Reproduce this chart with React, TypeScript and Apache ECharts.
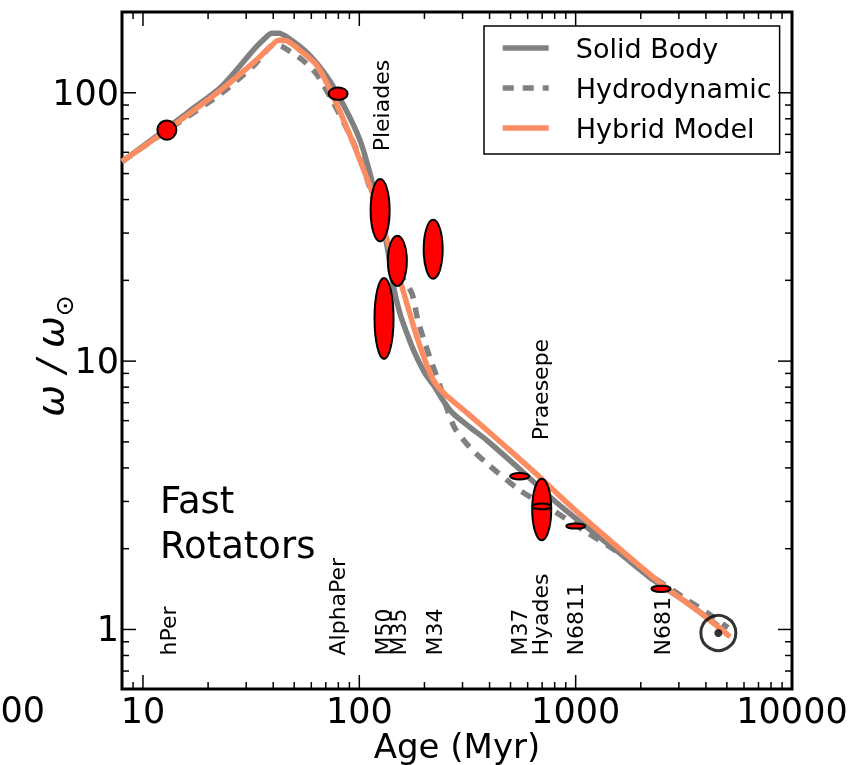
import React, { useEffect, useRef } from 'react';
import * as echarts from 'echarts';

const FONT = 'DejaVu Sans';

// Model tracks: age (Myr) and omega / omega_sun
const solidAge = [8, 12.9, 16.3, 23.1, 32.9, 36.2, 39.4, 42.4, 47.2, 58.4, 72.3, 85.7, 100.5, 111.8, 121.8, 134.1, 144.4, 153.9, 165.9, 180.6, 200.9, 223.6, 243.4, 270.6, 324.4, 388.8, 552.6, 785, 1128, 1603, 2278, 3272, 4551];
const solidOmega = [55.4, 73.6, 85.1, 105.6, 146.4, 158.2, 166.5, 166.5, 159.5, 139.0, 112.1, 88.1, 66.9, 50.4, 37.6, 27.1, 18.7, 15.1, 12.7, 10.7, 9.02, 8.0, 7.15, 6.39, 5.67, 5.07, 3.95, 3.05, 2.40, 1.92, 1.53, 1.258, 1.032];

const hydroAge = [8, 12.9, 23.1, 32.9, 40.7, 43.8, 54.2, 63.6, 73.1, 85.7, 100.5, 131.2, 153.9, 174.9, 186.5, 200.9, 216.4, 235.7, 254, 276.6, 324.4, 388.8, 552.6, 785, 1128, 1603, 2278, 3272, 4180, 5063];
const hydroOmega = [55.4, 72.3, 99.7, 127.5, 151.5, 149, 133.2, 117.1, 96.9, 76.1, 57.3, 29.6, 21.3, 17.9, 14.2, 11.7, 9.83, 8.13, 6.67, 5.62, 4.77, 4.16, 3.30, 2.78, 2.30, 1.92, 1.57, 1.29, 1.135, 1.015];

const hybridAge = [8, 12.9, 23.1, 32.9, 38.5, 42.4, 46.2, 52.5, 63.6, 75.4, 92.3, 106.0, 117.9, 131.2, 150.7, 167.6, 186.5, 216.4, 243.4, 324.4, 461, 662, 941, 1337, 1921, 2731, 3880, 5173];
const hybridOmega = [55.4, 72.6, 102.9, 130.9, 147.6, 156.8, 156.1, 145.1, 126.5, 97.7, 66.9, 50.4, 39.9, 30.1, 21.3, 15.9, 11.98, 8.71, 7.66, 6.28, 4.90, 3.78, 2.90, 2.26, 1.76, 1.395, 1.135, 0.939];

// Cluster observations: age and omega range (low / high)
const clusterNames = ['hPer', 'AlphaPer', 'Pleiades', 'M50', 'M35', 'M34', 'M37', 'Hyades', 'Praesepe', 'N6811', 'N6819'];
const clusterAge = [12.9, 79.8, 124.8, 130.1, 149.9, 219.5, 550.8, 696.8, 696.8, 1001, 2480];
const clusterOmegaLow = [66.3, 93.3, 27.7, 10.1, 18.9, 20.1, 3.59, 2.13, 2.78, 2.38, 1.368];
const clusterOmegaHigh = [79.5, 105.6, 48.1, 20.6, 29.6, 33.9, 3.86, 3.68, 2.97, 2.48, 1.469];

// The Sun
const sunAge = 4566;
const sunOmega = 0.97;

// Cluster name labels (text), their ages and the omega at which each label starts
const labelTexts = ['hPer', 'AlphaPer', 'M50', 'M35', 'M34', 'M37', 'Hyades', 'N6811', 'N681', 'Pleiades', 'Praesepe'];
const labelAges = [13.1, 79, 129, 152, 223, 553, 687, 1001, 2520, 126.7, 691];
const labelOmegas = [0.8, 0.8, 0.8, 0.8, 0.8, 0.8, 0.8, 0.8, 0.8, 60.5, 5.07];

// Axis ticks
const xMajorTicks = [10, 100, 1000, 10000];
const yMajorTicks = [1, 10, 100];
const xMin = 8, xMax = 10000, yMin = 0.6, yMax = 200;

const zip = (a: number[], b: number[]) => a.map((v, i) => [v, b[i]]);

function minorTicks(lo: number, hi: number): number[] {
  const out: number[] = [];
  for (let e = -1; e <= 4; e++) {
    for (let m = 2; m <= 9; m++) {
      const v = m * Math.pow(10, e);
      if (v > lo * 1.0001 && v < hi * 0.9999) out.push(v);
    }
  }
  return out;
}

const powerLabel = (v: number) => {
  const l = Math.log10(v);
  return Math.abs(l - Math.round(l)) < 1e-6 ? String(Math.round(v)) : '';
};

export default function App() {
  const ref = useRef<HTMLDivElement>(null);
  useEffect(() => {
    if (!ref.current) return;
    const chart = echarts.init(ref.current, null, { renderer: 'svg' });

    const tickData: number[][] = [];
    xMajorTicks.forEach((v) => tickData.push([v, 1, 0]));
    minorTicks(xMin, xMax).forEach((v) => tickData.push([v, 1, 1]));
    yMajorTicks.forEach((v) => tickData.push([10, v, 2]));
    minorTicks(yMin, yMax).forEach((v) => tickData.push([10, v, 3]));

    const gray = '#808080';
    const orange = '#fc8d62';

    const option: any = {
      animation: false,
      grid: {
        left: 122, top: 12, width: 670, height: 677,
        show: true, borderColor: '#000', borderWidth: 3,
        containLabel: false, outerBoundsMode: 'none',
      },
      xAxis: {
        type: 'log', logBase: 10, min: xMin, max: xMax,
        axisLine: { show: false }, axisTick: { show: false }, splitLine: { show: false },
        axisLabel: { formatter: powerLabel, fontSize: 35, fontFamily: FONT, color: '#000', margin: 4 },
        name: 'Age (Myr)', nameLocation: 'middle', nameGap: 40, nameMoveOverlap: false,
        nameTextStyle: { fontSize: 34, lineHeight: 34, fontFamily: FONT, color: '#000' },
      },
      yAxis: {
        type: 'log', logBase: 10, min: yMin, max: yMax,
        axisLine: { show: false }, axisTick: { show: false }, splitLine: { show: false },
        axisLabel: { formatter: powerLabel, fontSize: 35, fontFamily: FONT, color: '#000', margin: 3 },
      },
      legend: {
        data: ['Solid Body', 'Hydrodynamic', 'Hybrid Model'],
        orient: 'vertical', left: 484, top: 26,
        itemWidth: 46, itemHeight: 30, itemGap: 10,
        padding: [7, 8, 11, 16],
        borderColor: '#000', borderWidth: 1.5, borderRadius: 0,
        backgroundColor: '#fff',
        selectedMode: false,
        itemStyle: { opacity: 0 },
        lineStyle: { width: 5.5 },
        textStyle: { fontSize: 27, fontFamily: FONT, color: '#000', padding: [0, 0, 0, 22], lineHeight: 30 },
      },
      graphic: [
        {
          type: 'text', x: 50, y: 356, rotation: Math.PI / 2, silent: true,
          style: {
            text: '{a|ω / ω}{b|⊙}', align: 'center', verticalAlign: 'middle',
            rich: {
              a: { fontSize: 38, fontStyle: 'italic', fontFamily: FONT, fill: '#000', lineHeight: 54 },
              b: { fontSize: 25, fontFamily: FONT, fill: '#000', verticalAlign: 'bottom', lineHeight: 25 },
            },
          },
        },
        {
          type: 'text', left: 160, top: 478, silent: true,
          style: { text: 'Fast\nRotators', fontSize: 37, lineHeight: 45, fontFamily: FONT, fill: '#000' },
        },
        {
          type: 'text', x: 45, y: 710, silent: true,
          style: { text: '1000', fontSize: 35, fontFamily: FONT, fill: '#000', align: 'right', verticalAlign: 'middle' },
        },
      ],
      series: [
        {
          name: 'ticks', type: 'custom', silent: true, clip: false, z: 5,
          data: tickData,
          renderItem: (params: any, api: any) => {
            const cs = params.coordSys;
            const kind = api.value(2);
            const len = kind % 2 === 0 ? 14 : 7;
            const st = { stroke: '#000', lineWidth: 1.5 };
            if (kind < 2) {
              const px = api.coord([api.value(0), 1])[0];
              const b = cs.y + cs.height;
              return {
                type: 'group', children: [
                  { type: 'line', shape: { x1: px, y1: b, x2: px, y2: b - len }, style: st },
                  { type: 'line', shape: { x1: px, y1: cs.y, x2: px, y2: cs.y + len }, style: st },
                ],
              };
            }
            const py = api.coord([10, api.value(1)])[1];
            const r = cs.x + cs.width;
            return {
              type: 'group', children: [
                { type: 'line', shape: { x1: cs.x, y1: py, x2: cs.x + len, y2: py }, style: st },
                { type: 'line', shape: { x1: r, y1: py, x2: r - len, y2: py }, style: st },
              ],
            };
          },
        },
        {
          name: 'Solid Body', type: 'line', data: zip(solidAge, solidOmega), symbol: 'none',
          smooth: 0.25, silent: true, z: 2,
          lineStyle: { color: gray, width: 5.5, join: 'round' }, itemStyle: { color: gray },
        },
        {
          name: 'Hydrodynamic', type: 'line', data: zip(hydroAge, hydroOmega), symbol: 'none',
          smooth: 0.25, silent: true, z: 2,
          lineStyle: { color: gray, width: 5.5, type: [11, 9] }, itemStyle: { color: gray },
        },
        {
          name: 'Hybrid Model', type: 'line', data: zip(hybridAge, hybridOmega), symbol: 'none',
          smooth: 0.25, silent: true, z: 2,
          lineStyle: { color: orange, width: 5.5, join: 'round' }, itemStyle: { color: orange },
        },
        {
          name: 'labels', type: 'custom', silent: true, clip: false, z: 3,
          data: zip(labelAges, labelOmegas),
          renderItem: (params: any, api: any) => {
            const p = api.coord([api.value(0), api.value(1)]);
            return {
              type: 'text', x: p[0], y: p[1], rotation: Math.PI / 2,
              style: {
                text: labelTexts[params.dataIndex], fontSize: 22, fontFamily: FONT, fill: '#000',
                align: 'left', verticalAlign: 'middle',
              },
            };
          },
        },
        {
          name: 'clusters', type: 'custom', silent: true, clip: false, z: 4,
          data: clusterAge.map((a, i) => [a, clusterOmegaLow[i], clusterOmegaHigh[i]]),
          encode: { x: 0, y: [1, 2] },
          renderItem: (params: any, api: any) => {
            const top = api.coord([api.value(0), api.value(2)]);
            const bot = api.coord([api.value(0), api.value(1)]);
            const ry = Math.max((bot[1] - top[1]) / 2 - 1, 2.6);
            return {
              type: 'ellipse',
              shape: { cx: top[0], cy: (top[1] + bot[1]) / 2, rx: 9.5, ry },
              style: { fill: '#ff0000', stroke: '#000', lineWidth: 2 },
            };
          },
        },
        {
          name: 'Sun', type: 'scatter', silent: true, data: [[sunAge, sunOmega]], z: 4,
          symbol: 'circle', symbolSize: 35,
          itemStyle: { color: 'rgba(0,0,0,0)', borderColor: '#000', borderWidth: 3 },
        },
        {
          name: 'SunDot', type: 'scatter', silent: true, data: [[sunAge, sunOmega]], z: 4,
          symbol: 'circle', symbolSize: 8, itemStyle: { color: '#000' },
        },
      ],
    };
    chart.setOption(option);
    return () => chart.dispose();
  }, []);
  return <div ref={ref} style={{ position: 'fixed', left: 0, top: 0, width: 851, height: 765 }} />;
}
